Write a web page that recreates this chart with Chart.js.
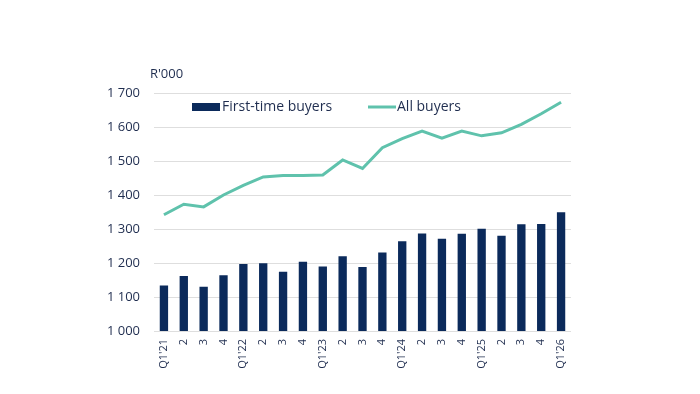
<!DOCTYPE html>
<html>
<head>
<meta charset="utf-8">
<script src="https://cdn.jsdelivr.net/npm/chart.js@4"></script>
<style>
  html, body { margin: 0; padding: 0; background: #fff; }
</style>
</head>
<body>
<canvas id="houseChart" width="700" height="394"></canvas>
<script>
const quarters = ["Q1'21", '2', '3', '4', "Q1'22", '2', '3', '4', "Q1'23", '2', '3', '4',
  "Q1'24", '2', '3', '4', "Q1'25", '2', '3', '4', "Q1'26"];
const firstTimeBuyers = [1134, 1162, 1130, 1164, 1197, 1199, 1174, 1204, 1190, 1220, 1188, 1231,
  1264, 1287, 1271, 1286, 1301, 1280, 1314, 1315, 1349];
const allBuyers = [1342, 1373, 1365, 1400, 1428, 1453, 1457, 1457, 1459, 1503, 1478, 1539,
  1566, 1588, 1567, 1588, 1574, 1583, 1608, 1639, 1673];

const textColor = '#1f2d4f';
const navy = '#0b2a5b';
const teal = '#5fc2ac';

// legend + unit label drawn inside the plot, like the original
const inlineLegend = {
  id: 'inlineLegend',
  afterDraw(chart) {
    const ctx = chart.ctx;
    const area = chart.chartArea;
    ctx.save();
    ctx.font = '13px "Open Sans"';
    ctx.fillStyle = textColor;
    ctx.textBaseline = 'middle';
    ctx.fillText("R'000", area.left - 4, 74);

    const y = 107;
    const bars = chart.data.datasets[0];
    const line = chart.data.datasets[1];
    ctx.font = '14px "Open Sans"';
    ctx.fillStyle = bars.backgroundColor;
    ctx.fillRect(192, y - 4, 28, 8);
    ctx.fillStyle = textColor;
    ctx.fillText(bars.label, 222, y);

    ctx.strokeStyle = line.borderColor;
    ctx.lineWidth = 3;
    ctx.beginPath();
    ctx.moveTo(368, y);
    ctx.lineTo(396, y);
    ctx.stroke();
    ctx.fillText(line.label, 397, y);
    ctx.restore();
  }
};

let myChart = new Chart(document.getElementById('houseChart'), {
  type: 'bar',
  data: {
    labels: quarters,
    datasets: [{
      label: 'First-time buyers',
      data: firstTimeBuyers,
      backgroundColor: navy,
      categoryPercentage: 1,
      barPercentage: 0.42,
      order: 1
    }, {
      type: 'line',
      label: 'All buyers',
      data: allBuyers,
      borderColor: teal,
      backgroundColor: teal,
      borderWidth: 3,
      pointRadius: 0,
      tension: 0,
      order: 0
    }]
  },
  options: {
    responsive: false,
    animation: false,
    layout: { padding: { top: 93, right: 129, left: 0, bottom: 0 } },
    plugins: {
      legend: { display: false },
      tooltip: { enabled: false }
    },
    scales: {
      x: {
        grid: { display: false, drawTicks: false },
        border: { display: false },
        ticks: {
          color: textColor,
          font: { family: 'Open Sans', size: 11 },
          minRotation: 90,
          maxRotation: 90,
          autoSkip: false,
          padding: 8
        },
        afterFit(scale) { scale.height = 63; }
      },
      y: {
        min: 1000,
        max: 1700,
        grid: { color: '#dedede', lineWidth: 1, drawTicks: false },
        border: { display: false },
        ticks: {
          stepSize: 100,
          color: textColor,
          font: { family: 'Open Sans', size: 13 },
          padding: 14,
          callback: v => String(v).replace(/\B(?=(\d{3})+(?!\d))/g, ' ')
        },
        afterFit(scale) { scale.width = 154; }
      }
    }
  },
  plugins: [inlineLegend]
});
</script>
</body>
</html>
